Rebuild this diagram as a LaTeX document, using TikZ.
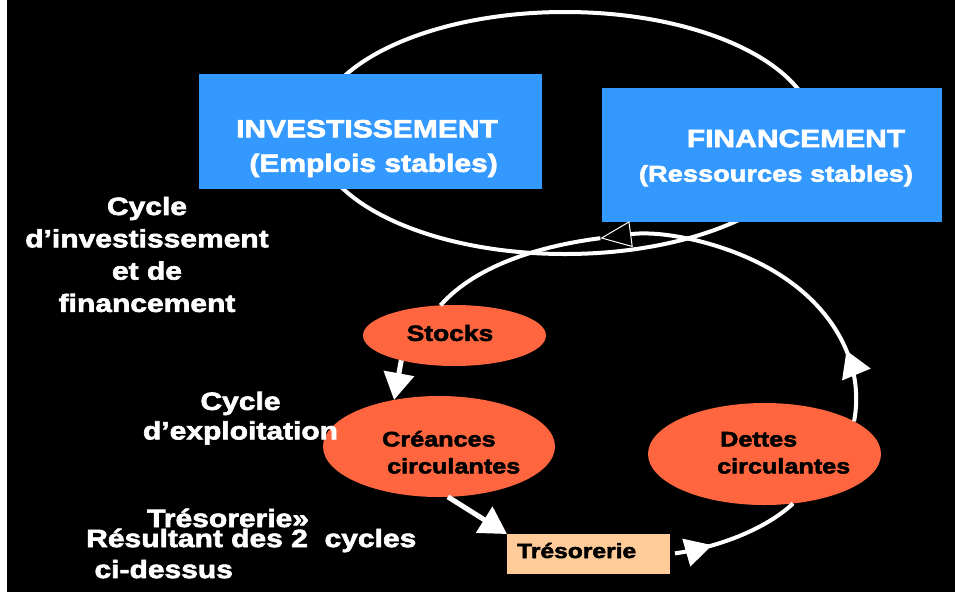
\documentclass[tikz,border=0pt]{standalone}
\usepackage{fontspec}
\setmainfont{Liberation Sans}[FakeStretch=1.2, BoldFeatures={FakeBold=2.5}]
\usetikzlibrary{shapes.geometric,arrows.meta,decorations.markings,positioning}
\definecolor{boxblue}{HTML}{3399FF}
\definecolor{ovalred}{HTML}{FF6640}
\definecolor{peach}{HTML}{FFCC99}
\tikzset{
  bluebox/.style={
    % The shape:
    rectangle,
    % The size:
    minimum width=343pt, minimum height=115pt, inner sep=0pt, outer sep=0pt,
    % The filling:
    fill=boxblue},
  oval/.style={ellipse, fill=ovalred, inner sep=0pt, outer sep=0pt},
  tresbox/.style={rectangle, fill=peach, inner sep=0pt, outer sep=0pt},
  boxtext/.style={text=white, font=\bfseries\fontsize{25}{34.5}\selectfont, inner sep=0pt},
  sidetext/.style={text=white, font=\bfseries\fontsize{25}{32.3}\selectfont, align=center, inner sep=0pt},
  ovaltext/.style={text=black, font=\bfseries\fontsize{21}{27}\selectfont, align=left, inner sep=0pt},
  cycleline/.style={draw=white, line width=4pt},
  flow/.style={draw=white, line width=5pt, -{Triangle[width=30pt,length=27pt]}}
}
\begin{document}
\begin{tikzpicture}[x=1pt,y=1pt]
\useasboundingbox (0,0) rectangle (955,-592);
\fill[white] (0,0) rectangle (955,-592);
\fill[black] (7,0) rectangle (955,-592);
% Cycle d'investissement et de financement
\draw[cycleline] (565,-133) ellipse [x radius=250, y radius=121];
\node[bluebox] (inv) at (370.5,-131.5) {};
\node[bluebox, minimum width=340pt, minimum height=134pt] (fin) at (772,-155) {};
\node[boxtext, align=right, anchor=east] at ([xshift=127.5pt,yshift=-17pt]inv.center) {INVESTISSEMENT\\(Emplois stables)};
\node[boxtext, align=center] at ([xshift=4pt,yshift=-3pt]fin.center) {\hspace*{40pt}FINANCEMENT\\{\fontsize{22.7}{34.5}\selectfont(Ressources stables)}};
% Cycle d'exploitation
\node[oval, minimum width=183pt, minimum height=61pt] (stocks) at (454.5,-335.5) {};
\node[oval, minimum width=232pt, minimum height=101pt] (creances) at (439,-446.5) {};
\node[oval, minimum width=233pt, minimum height=102pt] (dettes) at (764.5,-454) {};
\node[tresbox, minimum width=163pt, minimum height=40pt] (tres) at (588.5,-554) {};
% Draw edges
\draw[cycleline, -{Triangle[fill=black, line width=1pt, width=26pt, length=31pt]},
      postaction={decorate}, decoration={markings, mark=at position 0.2 with {\arrow{Triangle[width=30pt,length=26pt]}}}]
  (dettes.20) arc[start angle=-8, end angle=100, x radius=218, y radius=163] coordinate (looptop);
\draw[cycleline] (looptop) .. controls +(-55,-7) and +(37,42) .. (stocks.115);
\draw[cycleline, shorten <=5pt, postaction={decorate},
      decoration={markings, mark=at position 0.32 with {\arrow{Triangle[width=28pt,length=27pt]}}}]
  (tres.east) .. controls (715,-548) and (765,-530) .. (dettes.-60);
\draw[flow] (stocks.-155) -- (creances.134);
\draw[flow] (creances.-80) -- (tres.north west);
% Texts in the ovals
\node[ovaltext, font=\bfseries\fontsize{22}{27}\selectfont] at ([xshift=-4.5pt,yshift=2.5pt]stocks.center) {Stocks};
\node[ovaltext, anchor=west] at ([xshift=-57pt,yshift=-5.8pt]creances.center) {Créances\\\hspace*{5pt}circulantes};
\node[ovaltext, anchor=west] at ([xshift=-47.5pt,yshift=1.2pt]dettes.center) {\hspace*{3pt}Dettes\\circulantes};
\node[ovaltext, font=\bfseries\fontsize{20.5}{27}\selectfont, anchor=base west] at ([xshift=-71.5pt,yshift=-4pt]tres.center) {Trésorerie};
% Side labels
\node[sidetext] (cycinv) at (147,-254.5) {Cycle\\d’investissement\\et de\\financement};
\node[sidetext, font=\bfseries\fontsize{25}{29.5}\selectfont] (cycexp) at (240.5,-418.2) {Cycle\\d’exploitation};
\node[sidetext, anchor=base west] (trestxt) at (147,-527) {Trésorerie»};
\node[sidetext, align=left, anchor=west, font=\bfseries\fontsize{25}{31}\selectfont] (result) at (86,-553.5) {Résultant des 2~~cycles\\~ci-dessus};
\end{tikzpicture}
\end{document}
